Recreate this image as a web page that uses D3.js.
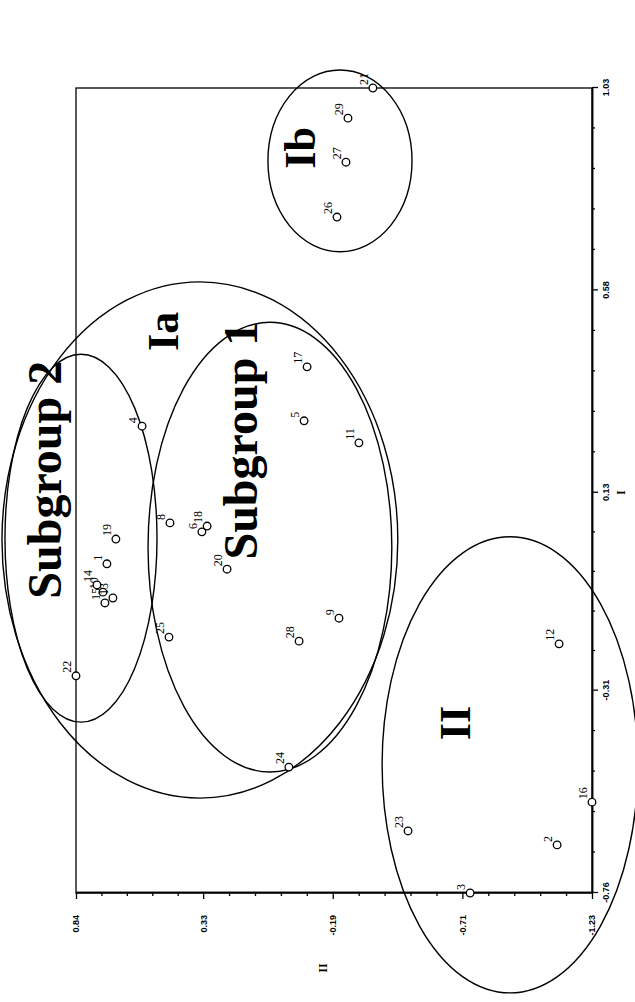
<!DOCTYPE html>
<html>
<head>
<meta charset="utf-8">
<script src="https://cdn.jsdelivr.net/npm/d3@7"></script>
<style>
  body { margin: 0; background: #fff; }
  svg { display: block; }
</style>
</head>
<body>
<script>
// sample ids and their scores on axis I and axis II
const ids  = [1, 2, 3, 4, 5, 6, 8, 9, 10, 11, 12, 13, 14, 15, 16, 17, 18, 19, 20, 21, 22, 23, 24, 25, 26, 27, 28, 29];
const pcI  = [-0.028, -0.653, -0.760, 0.278, 0.290, 0.043, 0.063, -0.149, -0.091, 0.241, -0.206, -0.104, -0.075, -0.115,
              -0.558, 0.410, 0.056, 0.027, -0.040, 1.030, -0.277, -0.622, -0.480, -0.191, 0.743, 0.865, -0.200, 0.963];
const pcII = [0.716, -1.090, -0.741, 0.575, -0.075, 0.335, 0.463, -0.215, 0.732, -0.295, -1.098, 0.692, 0.756, 0.724,
              -1.230, -0.087, 0.314, 0.680, 0.234, -0.351, 0.840, -0.492, -0.014, 0.467, -0.207, -0.243, -0.055, -0.251];

// axis ticks
const ticksI  = [-0.76, -0.31, 0.13, 0.58, 1.03];
const labelsI = ["-0.76", "-0.31", "0.13", "0.58", "1.03"];
const ticksII  = [-1.23, -0.71, -0.19, 0.33, 0.84];
const labelsII = ["-1.23", "-0.71", "-0.19", "0.33", "0.84"];

// grouping ellipses: centre (I, II) and radii (I, II)
const groupNames = ["Ia", "Subgroup 1", "Subgroup 2", "Ib", "II"];
const groupCI    = [0.025, 0.009, 0.029, 0.868, -0.475];
const groupCII   = [0.343, 0.062, 0.820, -0.219, -0.901];
const groupRI    = [0.574, 0.500, 0.409, 0.202, 0.507];
const groupRII   = [0.794, 0.489, 0.305, 0.289, 0.513];
// where each group name sits (I, II)
const nameI  = [0.489, 0.246, 0.159, 0.897, -0.382];
const nameII = [0.432, 0.113, 0.900, -0.118, -0.740];

const W = 805, H = 516;
const serif = "'Liberation Serif', 'Times New Roman', serif";

const svg = d3.select("body").append("svg")
    .attr("width", 635)
    .attr("height", 1002);

// whole plot is turned a quarter turn counter-clockwise
const g = svg.append("g")
    .attr("transform", "translate(76,893) rotate(-90)");

const x = d3.scaleLinear().domain([-0.76, 1.03]).range([0, W]);
const y = d3.scaleLinear().domain([-1.23, 0.84]).range([H, 0]);

function minors(t) {
    let out = [];
    for (let i = 0; i < t.length - 1; i++)
        for (let k = 1; k < 5; k++) out.push(t[i] + (t[i + 1] - t[i]) * k / 5);
    return out;
}

// frame
g.append("rect")
    .attr("width", W).attr("height", H)
    .attr("fill", "none").attr("stroke", "#000").attr("stroke-width", 1.3);

// axis I (bottom in the unturned frame)
const axI = g.append("g").attr("transform", "translate(0," + H + ")");
axI.call(d3.axisBottom(x).tickValues(ticksI).tickSize(6).tickSizeOuter(0).tickPadding(5)
    .tickFormat((d, i) => labelsI[i]));
axI.append("g").call(d3.axisBottom(x).tickValues(minors(ticksI)).tickSize(3).tickSizeOuter(0).tickFormat(""));

// axis II (left in the unturned frame)
const axII = g.append("g");
axII.call(d3.axisLeft(y).tickValues(ticksII).tickSize(6).tickSizeOuter(0).tickPadding(16)
    .tickFormat((d, i) => labelsII[i]));
axII.append("g").call(d3.axisLeft(y).tickValues(minors(ticksII)).tickSize(3).tickSizeOuter(0).tickFormat(""));

g.selectAll(".domain").attr("stroke-width", 1.5);
g.selectAll(".tick line").attr("stroke-width", 1.3);
g.selectAll(".tick text")
    .style("font-family", "'Liberation Sans', Arial, sans-serif")
    .style("font-weight", "bold")
    .style("font-size", "9px");

// axis titles
g.append("text")
    .attr("x", x(0.13)).attr("y", H + 33)
    .attr("text-anchor", "middle")
    .style("font-family", serif).style("font-weight", "bold").style("font-size", "12px")
    .text("I");
g.append("text")
    .attr("x", -75).attr("y", y(-0.19) - 10)
    .attr("text-anchor", "middle").attr("dy", "0.35em")
    .style("font-family", serif).style("font-weight", "bold").style("font-size", "12px")
    .text("II");

// group ellipses
g.selectAll(".grp")
    .data(groupNames)
    .enter().append("ellipse")
    .attr("class", "grp")
    .attr("cx", (d, i) => x(groupCI[i]))
    .attr("cy", (d, i) => y(groupCII[i]))
    .attr("rx", (d, i) => x(groupCI[i] + groupRI[i]) - x(groupCI[i]))
    .attr("ry", (d, i) => y(groupCII[i] - groupRII[i]) - y(groupCII[i]))
    .attr("fill", "none")
    .attr("stroke", "#000")
    .attr("stroke-width", 1.4);

// group names
g.selectAll(".gname")
    .data(groupNames)
    .enter().append("text")
    .attr("class", "gname")
    .attr("x", (d, i) => x(nameI[i]))
    .attr("y", (d, i) => y(nameII[i]))
    .attr("text-anchor", "middle")
    .style("font-family", serif)
    .style("font-weight", "bold")
    .style("font-size", (d) => d.startsWith("Sub") ? "48px" : "44px")
    .text(d => d);

// points
const pts = g.selectAll(".pt")
    .data(ids)
    .enter().append("g")
    .attr("class", "pt");

pts.append("circle")
    .attr("cx", (d, i) => x(pcI[i]))
    .attr("cy", (d, i) => y(pcII[i]))
    .attr("r", 3.8)
    .attr("fill", "#fff")
    .attr("stroke", "#000")
    .attr("stroke-width", 1.3);

pts.append("text")
    .attr("x", (d, i) => x(pcI[i]) + 3)
    .attr("y", (d, i) => y(pcII[i]) - 5)
    .style("font-family", serif)
    .style("font-size", "12px")
    .text(d => d);
</script>
</body>
</html>
